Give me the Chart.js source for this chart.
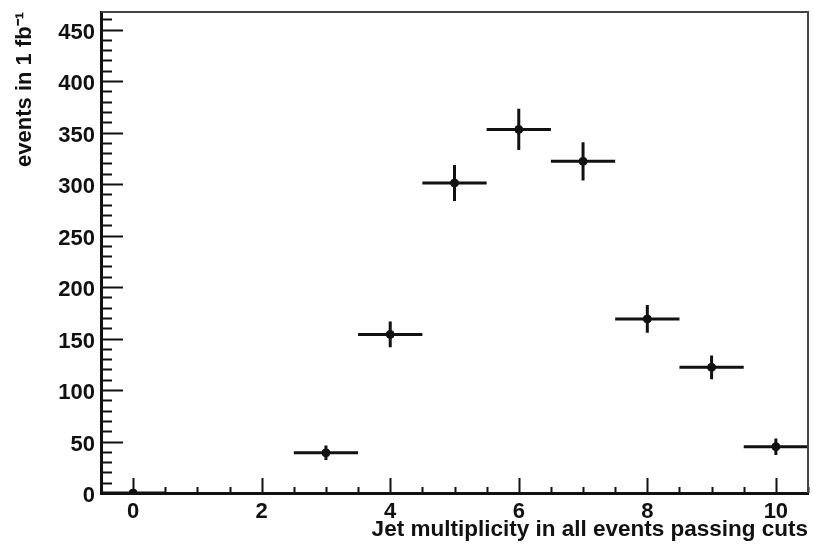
<!DOCTYPE html>
<html>
<head>
<meta charset="utf-8">
<script src="https://cdn.jsdelivr.net/npm/chart.js@4.4.1/dist/chart.umd.min.js"></script>
<style>
    html, body { margin: 0; padding: 0; background: #fff; }
    #chart { display: block; }
</style>
</head>
<body>
<canvas id="chart" width="813" height="547"></canvas>
<script>
// Jet multiplicity bins and event counts (1 fb^-1)
const jetMultiplicity = [0, 3, 4, 5, 6, 7, 8, 9, 10];
const eventCounts = [0, 39, 154, 301, 353, 322, 169, 122, 45];
const eventErrors = [0, 7, 12.5, 17.5, 20, 18.5, 13.5, 11.5, 8];
const binHalfWidth = 0.5;

const xTickValues = [0, 2, 4, 6, 8, 10];
const yTickValues = [0, 50, 100, 150, 200, 250, 300, 350, 400, 450];

const xTitle = 'Jet multiplicity in all events passing cuts';
const yTitle = 'events in 1 fb\u207B\u00B9';

const fontFamily = '"Liberation Sans", Arial, Helvetica, sans-serif';
const ink = '#111';

// ROOT-style inner tick marks and the frame around the pad
const frameTicks = {
    id: 'frameTicks',
    afterDraw(chart) {
        const { ctx, chartArea: a, scales: { x, y } } = chart;
        ctx.save();
        ctx.strokeStyle = ink;
        ctx.lineWidth = 2;
        ctx.beginPath();
        for (let v = x.min; v <= x.max + 1e-9; v += 0.5) {
            const px = Math.round(x.getPixelForValue(v)) + 0.5;
            const len = xTickValues.includes(v) ? 15 : 6;
            ctx.moveTo(px, a.bottom);
            ctx.lineTo(px, a.bottom - len);
        }
        for (let v = 0; v <= y.max; v += 10) {
            const py = Math.round(y.getPixelForValue(v)) + 0.5;
            const len = v % 50 === 0 ? 22 : 11;
            ctx.moveTo(a.left, py);
            ctx.lineTo(a.left + len, py);
        }
        ctx.stroke();
        // top and right of the frame
        ctx.strokeStyle = '#444';
        ctx.beginPath();
        ctx.moveTo(a.left, a.top);
        ctx.lineTo(a.right, a.top);
        ctx.lineTo(a.right, a.bottom);
        ctx.stroke();
        ctx.restore();
    }
};

// Horizontal (bin width) and vertical (stat. error) bars
const errorBars = {
    id: 'errorBars',
    afterDatasetsDraw(chart) {
        const { ctx, chartArea: a, scales: { x, y } } = chart;
        ctx.save();
        ctx.beginPath();
        ctx.rect(a.left, a.top, a.right - a.left, a.bottom - a.top);
        ctx.clip();
        ctx.strokeStyle = ink;
        ctx.lineWidth = 3;
        ctx.beginPath();
        jetMultiplicity.forEach((n, i) => {
            const py = y.getPixelForValue(eventCounts[i]);
            const px = x.getPixelForValue(n);
            ctx.moveTo(x.getPixelForValue(n - binHalfWidth), py);
            ctx.lineTo(x.getPixelForValue(n + binHalfWidth), py);
            if (eventErrors[i] > 0) {
                ctx.moveTo(px, y.getPixelForValue(eventCounts[i] + eventErrors[i]));
                ctx.lineTo(px, y.getPixelForValue(eventCounts[i] - eventErrors[i]));
            }
        });
        ctx.stroke();
        ctx.restore();
    }
};

new Chart(document.getElementById('chart'), {
    type: 'scatter',
    data: {
        datasets: [{
            data: jetMultiplicity.map((n, i) => ({ x: n, y: eventCounts[i] })),
            backgroundColor: ink,
            borderColor: ink,
            pointRadius: 4,
            pointStyle: 'circle',
            showLine: false
        }]
    },
    options: {
        responsive: false,
        animation: false,
        layout: { padding: { top: 12, right: 4, left: 0, bottom: 0 } },
        plugins: {
            legend: { display: false },
            tooltip: { enabled: false }
        },
        scales: {
            x: {
                type: 'linear',
                min: -0.5,
                max: 10.5,
                afterBuildTicks: s => { s.ticks = xTickValues.map(v => ({ value: v })); },
                afterFit: s => { s.height = 54; s.paddingLeft = 0; s.paddingRight = 0; },
                grid: { display: false, drawTicks: false },
                border: { display: true, color: ink, width: 3 },
                ticks: {
                    padding: 6,
                    color: ink,
                    maxRotation: 0,
                    autoSkip: false,
                    font: { family: fontFamily, size: 22, weight: 'bold' }
                },
                title: {
                    display: true,
                    text: xTitle,
                    align: 'end',
                    color: ink,
                    padding: { top: 0, bottom: 4 },
                    font: { family: fontFamily, size: 22.5, weight: 'bold' }
                }
            },
            y: {
                type: 'linear',
                min: 0,
                max: 467,
                afterBuildTicks: s => { s.ticks = yTickValues.map(v => ({ value: v })); },
                afterFit: s => { s.width = 101; s.paddingTop = 0; s.paddingBottom = 0; },
                grid: { display: false, drawTicks: false },
                border: { display: true, color: ink, width: 3 },
                ticks: {
                    padding: 6,
                    labelOffset: 3,
                    color: ink,
                    font: { family: fontFamily, size: 22, weight: 'bold' }
                },
                title: {
                    display: true,
                    text: yTitle,
                    align: 'end',
                    color: ink,
                    padding: { top: 12, bottom: 0 },
                    font: { family: fontFamily, size: 22, weight: 'bold' }
                }
            }
        }
    },
    plugins: [errorBars, frameTicks]
});
</script>
</body>
</html>
